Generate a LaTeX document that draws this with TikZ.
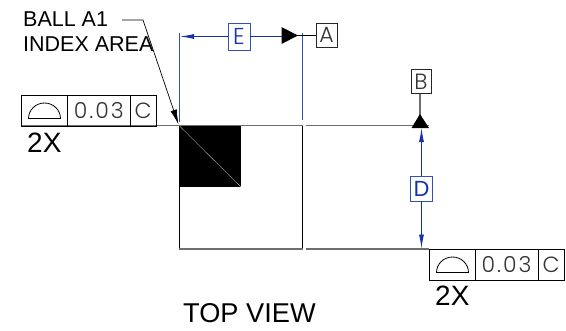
\documentclass[tikz,border=0pt]{standalone}
\usepackage{fontspec}
\setmainfont{Liberation Sans}
\newfontfamily\thinf{Poppins Light}
\newfontfamily\thinsp{Poppins Light}[LetterSpace=9]
\usetikzlibrary{arrows.meta}
\definecolor{dimblue}{RGB}{20,50,170}
\definecolor{extblue}{RGB}{50,80,185}
\definecolor{edgegray}{RGB}{110,110,110}
\tikzset{
  px/.style={font=\fontsize{#1}{#1}\selectfont},
  label/.style={inner sep=0pt,anchor=base west,align=left},
  cell/.style={draw=black,line width=0.9pt,inner sep=0pt,minimum height=#1,font=\thinf\fontsize{22}{22}\selectfont,text=black!80},
  tagbox/.style={draw=black!85,line width=0.9pt,fill=white,inner sep=0pt,font=\thinf\fontsize{22}{22}\selectfont,text=black!80},
  bluebox/.style={draw=extblue,line width=0.9pt,fill=white,inner sep=0pt,text=dimblue},
  outline/.style={draw=black,line width=0.9pt},
  edge/.style={draw=edgegray,line width=1.6pt},
  dimline/.style={draw=dimblue,line width=0.9pt},
  extline/.style={draw=extblue,line width=0.9pt},
  dimtip/.style={-{Latex[length=14pt,width=5pt]}},
  solidtri/.style={fill=black,draw=none},
  segment/.style={draw=black,line width=0.8pt}
}
\begin{document}
\begin{tikzpicture}[x=1pt,y=-1pt]
\useasboundingbox (0,0) rectangle (566,330);
\fill[white] (0,0) rectangle (566,330);

% package outline
\fill[black] (179,125.5) rectangle (241,187);
\draw[white!65!black,line width=0.4pt] (179,125.5) -- (241,187);
\draw[outline] (179,125.5) -- (179,249) -- (302.5,249) -- (302.5,125.5);

% edge lines
\coordinate (topL) at (21,125.5);
\coordinate (topM) at (302.5,125.5);
\coordinate (topR0) at (306,125.5);
\coordinate (topR) at (429,125.5);
\coordinate (botL) at (179,249);
\coordinate (botM) at (302.5,249);
\coordinate (botR0) at (306,249);
\coordinate (botR) at (429,249);
\draw[edge] (topL) -- (topM);
\draw[edge] (topR0) -- (topR);
\draw[edge,line width=1.2pt] (botL) -- (botM);
\draw[edge,line width=1.2pt] (botR0) -- (botR);

% left feature control frame
\node[cell=31pt,minimum width=46.5pt] (lf1) at (44.25,110.5) {};
\node[cell=31pt,minimum width=62.5pt] (lf2) at (98.75,110.5) {\thinsp 0.03};
\node[cell=31pt,minimum width=26pt] (lf3) at (143,110.5) {C};
\draw[segment] (28.5,118.5) arc[start angle=180,end angle=0,x radius=16,y radius=-15.5] -- cycle;

% right feature control frame
\node[cell=31pt,minimum width=46pt] (rf1) at (452,264.5) {};
\node[cell=31pt,minimum width=63pt] (rf2) at (506.5,264.5) {\thinsp 0.03};
\node[cell=31pt,minimum width=26pt] (rf3) at (551,264.5) {C};
\draw[segment] (436.5,272.5) arc[start angle=180,end angle=0,x radius=16,y radius=-15.5] -- cycle;

% texts
\node[label,px=28] (twoxl) at (27,152) {2X};
\node[label,px=28] (twoxr) at (435,305) {2X};
\node[label,px=21.5] (ball) at (23,26) {BALL A1};
\node[label,px=21.5] (index) at (23,51) {INDEX AREA};
\node[label,px=27.2] (topview) at (183,322) {TOP VIEW};

% index leader
\coordinate (leadS) at (122,20);
\coordinate (leadK) at (143,20);
\coordinate (leadE) at (178.5,124.5);
\draw[line width=0.7pt,-{Latex[length=15pt,width=6.5pt]}] (leadS) -- (leadK) -- (leadE);

% dimension E
\coordinate (extLt) at (179,33);
\coordinate (extLb) at (179,122);
\coordinate (extRt) at (302.5,33);
\coordinate (extRb) at (302.5,120);
\draw[extline] (extLt) -- (extLb);
\draw[extline] (extRt) -- (extRb);
\node[bluebox,minimum width=22pt,minimum height=27pt,font=\thinf\fontsize{23}{23}\selectfont] (E) at (239,36.5) {E};
\coordinate (dimEl) at (180,36.5);
\coordinate (dimEr) at (284,36.5);
\draw[dimline,dimtip] (E) -- (dimEl);
\draw[dimline] (E) -- (dimEr);

% datum A
\node[tagbox,minimum width=21pt,minimum height=24pt] (A) at (326.5,35) {A};
\coordinate (triA) at (297,35.5);
\draw[line width=0.9pt] (triA) -- (A.west |- triA);
\fill[solidtri] (281.5,27) -- (298,35.5) -- (281.5,44) -- cycle;

% datum B
\node[tagbox,minimum width=20pt,minimum height=24pt] (B) at (421,81.5) {B};
\coordinate (triB) at (420,115);
\draw[draw=edgegray,line width=1.2pt] (B.south -| triB) -- (triB);
\fill[solidtri] (420,114) -- (429,128) -- (411.5,128) -- cycle;

% dimension D
\node[bluebox,minimum width=22.5pt,minimum height=25pt,font=\fontsize{22}{22}\selectfont] (D) at (421.5,188.5) {D};
\coordinate (dimDt) at (421.5,128);
\coordinate (dimDb) at (421.5,248.5);
\draw[dimline,dimtip] (D) -- (dimDt);
\draw[dimline,dimtip] (D) -- (dimDb);
\end{tikzpicture}
\end{document}
